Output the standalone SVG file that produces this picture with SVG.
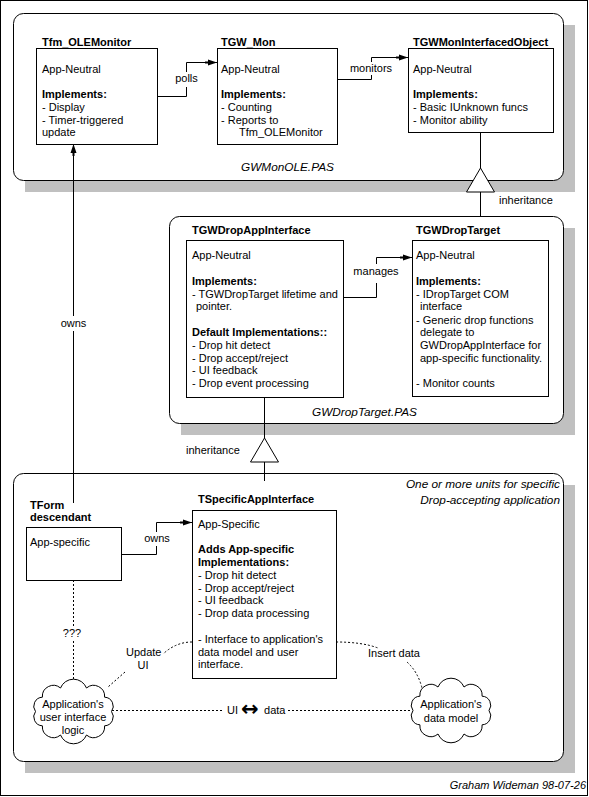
<svg xmlns="http://www.w3.org/2000/svg" width="589" height="797" viewBox="0 0 589 797">
<style>
.t{font-family:"Liberation Sans",Arial,sans-serif;font-size:11px;fill:#000}
.b{font-weight:bold}
.i{font-style:italic;font-size:11.8px}
.box{fill:#fff;stroke:#000;stroke-width:1}
.panel{fill:#fff;stroke:#000;stroke-width:1}
.shadow{fill:#c0c0c0}
.ln{fill:none;stroke:#000;stroke-width:1}
.dot{fill:none;stroke:#000;stroke-width:1;stroke-dasharray:2 2}
.tri{fill:#fff;stroke:#000;stroke-width:1}
.cloud{fill:#fff;stroke:#000;stroke-width:1}
.sym{font-family:"DejaVu Sans",sans-serif;font-size:21px;font-weight:bold}
</style>
<defs>
<marker id="arr" markerUnits="userSpaceOnUse" markerWidth="13" markerHeight="8" refX="12" refY="4" orient="auto">
<path d="M0,3 H3 V1 L12,4 L3,7 V5 H0 Z" fill="#000"/>
</marker>
<path id="cloudshape" d="M38,0 A9,9 0 0 1 31.1,14.3 A11,11 0 0 1 13,23.5 A14,14 0 0 1 -13,23.5 A11,11 0 0 1 -31.1,14.3 A9,9 0 0 1 -38,0 A9,9 0 0 1 -31.1,-14.3 A11,11 0 0 1 -13,-23.5 A14,14 0 0 1 13,-23.5 A11,11 0 0 1 31.1,-14.3 A9,9 0 0 1 38,0 Z"/>
</defs>
<rect x="0" y="0" width="589" height="797" fill="#fff"/>
<rect x="0.5" y="0.5" width="587" height="795" fill="none" stroke="#000"/>

<g id="panel-gwmonole">
<rect class="shadow" x="25" y="25" width="550" height="167"/>
<rect class="panel" x="13.5" y="13.5" width="550" height="167" rx="10" ry="10"/>
<text class="t i" x="241" y="170.5">GWMonOLE.PAS</text>
</g>
<g id="panel-gwdroptarget">
<rect class="shadow" x="181" y="228" width="394" height="207"/>
<rect class="panel" x="169.5" y="216.5" width="394" height="207" rx="10" ry="10"/>
<text class="t i" x="312" y="416">GWDropTarget.PAS</text>
</g>
<g id="panel-specific">
<rect class="shadow" x="25" y="485" width="550" height="288"/>
<rect class="panel" x="13.5" y="473.5" width="550" height="288" rx="10" ry="10"/>
<text class="t i" x="560" y="488" text-anchor="end">One or more units for specific</text>
<text class="t i" x="560" y="504" text-anchor="end">Drop-accepting application</text>
</g>

<g id="connectors">
<path class="ln" d="M157,96.5 H186.5 V87"/>
<path class="ln" d="M186.5,72 V62.5 H217" marker-end="url(#arr)"/>
<text class="t" x="186.5" y="82" text-anchor="middle">polls</text>

<path class="ln" d="M337,79.5 H371.5 V75"/>
<path class="ln" d="M371.5,62 V57.5 H408" marker-end="url(#arr)"/>
<text class="t" x="371" y="72" text-anchor="middle">monitors</text>

<path class="ln" d="M343,297.5 H376.5 V283"/>
<path class="ln" d="M376.5,264 V257.5 H412" marker-end="url(#arr)"/>
<text class="t" x="376" y="275" text-anchor="middle">manages</text>

<path class="ln" d="M121,554.5 H156.5 V546"/>
<path class="ln" d="M156.5,532 V522.5 H192" marker-end="url(#arr)"/>
<text class="t" x="157" y="542" text-anchor="middle">owns</text>

<path class="ln" d="M73.5,503 V331"/>
<path class="ln" d="M73.5,316 V144" marker-end="url(#arr)"/>
<text class="t" x="73.5" y="327" text-anchor="middle">owns</text>

<path class="ln" d="M480.5,132 V168"/>
<path class="ln" d="M480.5,192 V216"/>
<polygon class="tri" points="480.5,168 466.5,192 494.5,192"/>
<text class="t" x="499" y="204">inheritance</text>

<path class="ln" d="M264.5,397 V438"/>
<path class="ln" d="M264.5,462 V481"/>
<polygon class="tri" points="264.5,438 250.5,462 278.5,462"/>
<text class="t" x="186" y="454">inheritance</text>

<path class="dot" d="M73.5,580 V626"/>
<path class="dot" d="M73.5,641 V680"/>
<text class="t" x="72" y="637" text-anchor="middle">???</text>

<path class="dot" d="M192,642 Q176,642 163,654"/>
<path class="dot" d="M125,672 L108,687"/>
<text class="t" x="126" y="656">Update</text>
<text class="t" x="143" y="668.5" text-anchor="middle">UI</text>

<path class="dot" d="M336,642 Q362,642 378,648"/>
<path class="dot" d="M407,662 Q418,672 422,688"/>
<text class="t" x="368" y="657">Insert data</text>

<path class="dot" d="M112,710.5 H224"/>
<path class="dot" d="M288,710.5 H410"/>
<text class="t" x="227" y="713.5">UI <tspan class="sym" x="241" dy="2">↔</tspan><tspan x="261" dy="-2"> data</tspan></text>
</g>

<g id="tfm-olemonitor">
<text class="t b" x="42" y="45.5">Tfm_OLEMonitor</text>
<rect class="box" x="36.5" y="48.5" width="121" height="96"/>
<text class="t" x="42" y="73">App-Neutral</text>
<text class="t b" x="42" y="98">Implements:</text>
<text class="t" x="42" y="111">- Display</text>
<text class="t" x="42" y="123.5">- Timer-triggered</text>
<text class="t" x="42" y="136">update</text>
</g>

<g id="tgw-mon">
<text class="t b" x="221" y="45.5">TGW_Mon</text>
<rect class="box" x="217.5" y="48.5" width="120" height="96"/>
<text class="t" x="221" y="73">App-Neutral</text>
<text class="t b" x="221" y="98">Implements:</text>
<text class="t" x="221" y="111">- Counting</text>
<text class="t" x="221" y="123.5">- Reports to</text>
<text class="t" x="239" y="136">Tfm_OLEMonitor</text>
</g>

<g id="tgwmoninterfacedobject">
<text class="t b" x="413" y="45.5">TGWMonInterfacedObject</text>
<rect class="box" x="408.5" y="48.5" width="145" height="84"/>
<text class="t" x="413" y="73">App-Neutral</text>
<text class="t b" x="413" y="98">Implements:</text>
<text class="t" x="413" y="111">- Basic IUnknown funcs</text>
<text class="t" x="413" y="123.5">- Monitor ability</text>
</g>

<g id="tgwdropappinterface">
<text class="t b" x="192" y="234">TGWDropAppInterface</text>
<rect class="box" x="186.5" y="240.5" width="157" height="157"/>
<text class="t" x="192" y="259">App-Neutral</text>
<text class="t b" x="192" y="284.5">Implements:</text>
<text class="t" x="192" y="297.5">- TGWDropTarget lifetime and</text>
<text class="t" x="196" y="310">pointer.</text>
<text class="t b" x="192" y="336">Default Implementations::</text>
<text class="t" x="192" y="348.5">- Drop hit detect</text>
<text class="t" x="192" y="361.5">- Drop accept/reject</text>
<text class="t" x="192" y="374">- UI feedback</text>
<text class="t" x="192" y="387">- Drop event processing</text>
</g>

<g id="tgwdroptarget">
<text class="t b" x="416" y="234">TGWDropTarget</text>
<rect class="box" x="412.5" y="240.5" width="136" height="156"/>
<text class="t" x="416" y="259">App-Neutral</text>
<text class="t b" x="416" y="284.5">Implements:</text>
<text class="t" x="416" y="297.5">- IDropTarget COM</text>
<text class="t" x="420" y="310">interface</text>
<text class="t" x="416" y="323.5">- Generic drop functions</text>
<text class="t" x="420" y="336">delegate to</text>
<text class="t" x="420" y="348.5">GWDropAppInterface for</text>
<text class="t" x="420" y="361.5">app-specific functionality.</text>
<text class="t" x="416" y="387">- Monitor counts</text>
</g>

<g id="tform-descendant">
<text class="t b" x="30" y="509">TForm</text>
<text class="t b" x="30" y="521">descendant</text>
<rect class="box" x="26.5" y="527.5" width="95" height="53"/>
<text class="t" x="30" y="546">App-specific</text>
</g>

<g id="tspecificappinterface">
<text class="t b" x="198" y="503">TSpecificAppInterface</text>
<rect class="box" x="192.5" y="510.5" width="144" height="168"/>
<text class="t" x="198" y="527.5">App-Specific</text>
<text class="t b" x="198" y="553">Adds App-specific</text>
<text class="t b" x="198" y="566">Implementations:</text>
<text class="t" x="198" y="578.5">- Drop hit detect</text>
<text class="t" x="198" y="591.5">- Drop accept/reject</text>
<text class="t" x="198" y="604">- UI feedback</text>
<text class="t" x="198" y="617">- Drop data processing</text>
<text class="t" x="198" y="642.5">- Interface to application's</text>
<text class="t" x="198" y="655.5">data model and user</text>
<text class="t" x="198" y="668">interface.</text>
</g>

<g id="cloud-ui-logic">
<use href="#cloudshape" class="cloud" transform="translate(73.5,711.5)"/>
<text class="t" x="73" y="707.5" text-anchor="middle">Application's</text>
<text class="t" x="73" y="720.5" text-anchor="middle">user interface</text>
<text class="t" x="73" y="733.5" text-anchor="middle">logic</text>
</g>

<g id="cloud-data-model">
<use href="#cloudshape" class="cloud" transform="translate(451,710.5) scale(-1,1)"/>
<text class="t" x="451" y="708" text-anchor="middle">Application's</text>
<text class="t" x="451" y="721.5" text-anchor="middle">data model</text>
</g>

<text class="t" x="586" y="789" text-anchor="end" font-style="italic">Graham Wideman 98-07-26</text>
</svg>
